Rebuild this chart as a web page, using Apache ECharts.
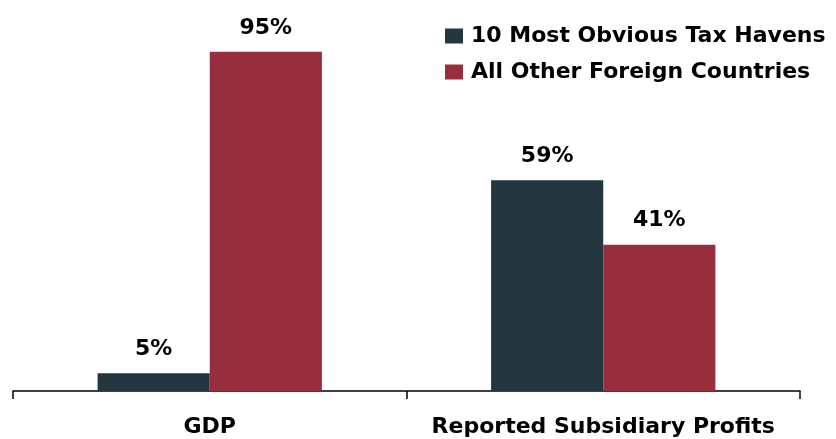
<!DOCTYPE html>
<html><head><meta charset="utf-8">
<script src="https://cdn.jsdelivr.net/npm/echarts@6/dist/echarts.min.js"></script>
<style>html,body{margin:0;padding:0;background:#fff}#c{width:836px;height:439px}</style>
</head><body><div id="c"></div>
<script>
const categories = ["GDP", "Reported Subsidiary Profits"];
const seriesNames = ["10 Most Obvious Tax Havens", "All Other Foreign Countries"];
const havens = [5, 59];
const others = [95, 41];
const colors = ["#24363f", "#962e3d"];
const font = "DejaVu Sans";
const chart = echarts.init(document.getElementById('c'));
const lbl = {show: true, position: 'top', distance: 13, formatter: '{c}%', fontFamily: font, fontWeight: 'bold', fontSize: 22, color: '#000'};
chart.setOption({
  animation: false,
  textStyle: {fontFamily: font},
  legend: {
    orient: 'vertical', left: 440, top: 20, itemWidth: 18, itemHeight: 15, itemGap: 14, icon: 'rect',
    textStyle: {fontFamily: font, fontWeight: 'bold', fontSize: 22, color: '#000', padding: [0, 0, 0, 3]},
    data: seriesNames
  },
  grid: {left: 13, right: 36, top: 34, bottom: 48, containLabel: false},
  xAxis: {
    type: 'category', data: categories,
    axisLine: {lineStyle: {color: '#000', width: 1.5}},
    axisTick: {show: true, interval: 0, length: 8, lineStyle: {color: '#000', width: 1.5}},
    axisLabel: {interval: 0, fontFamily: font, fontWeight: 'bold', fontSize: 22, color: '#000', margin: 25}
  },
  yAxis: {type: 'value', min: 0, max: 100, show: false, splitLine: {show: false}},
  series: [
    {name: seriesNames[0], type: 'bar', data: havens, barGap: '0%', barCategoryGap: '43%',
     itemStyle: {color: colors[0]}, label: lbl},
    {name: seriesNames[1], type: 'bar', data: others, barGap: '0%', barCategoryGap: '43%',
     itemStyle: {color: colors[1]}, label: lbl}
  ]
});
</script></body></html>
